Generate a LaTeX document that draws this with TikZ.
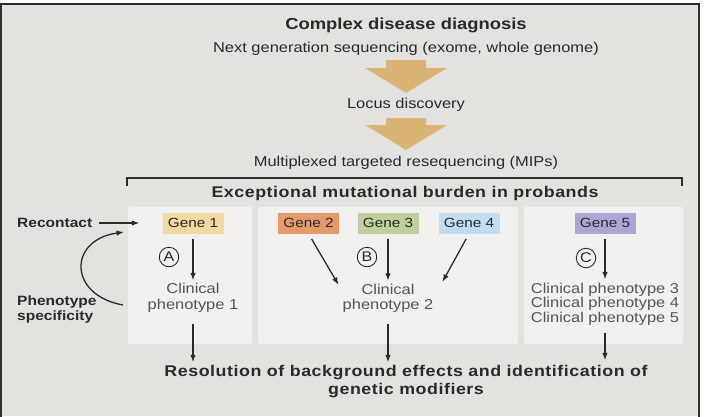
\documentclass[tikz,border=0pt]{standalone}
\usepackage{fontspec}
\setmainfont{Liberation Sans}[FakeStretch=1.15]
\newfontfamily\trackbf{Liberation Sans}[FakeStretch=1.15,LetterSpace=3.5]
\usetikzlibrary{arrows.meta}
\definecolor{bgc}{HTML}{E4E2DF}
\definecolor{panelc}{HTML}{F2F1EF}
\definecolor{framec}{HTML}{2E2E2E}
\definecolor{tanc}{HTML}{D9B475}
\definecolor{txtdark}{HTML}{2A2A2A}
\definecolor{clingray}{HTML}{555555}
\definecolor{geneA}{HTML}{F2D9A0}
\definecolor{geneB}{HTML}{E69A6C}
\definecolor{geneC}{HTML}{BED09B}
\definecolor{geneD}{HTML}{C0DDF2}
\definecolor{geneE}{HTML}{ACA6D6}
\begin{document}
\begin{tikzpicture}[x=1pt,y=-1pt,
  toptext/.style={font=\fontsize{14.3}{16}\selectfont, text=txtdark, inner sep=0},
  titletext/.style={font=\bfseries\fontsize{16}{18}\selectfont, text=txtdark, inner sep=0},
  genebox/.style={font=\fontsize{13.3}{15}\selectfont, text=txtdark, minimum width=61, minimum height=21, inner sep=0},
  clin/.style={font=\fontsize{14.3}{15.5}\selectfont, text=clingray, align=center, inner sep=0},
  sidebf/.style={font=\bfseries\fontsize{13.5}{15}\selectfont, text=txtdark, align=left, inner sep=0},
  bigbf/.style={font=\trackbf\bfseries\fontsize{15.5}{17.5}\selectfont, text=txtdark, align=center, inner sep=0},
  flow/.style={draw=txtdark, line width=1.3pt, -{Latex[length=7.5pt,width=5.5pt]}},
  circ/.style={circle, draw=txtdark, line width=0.9pt, minimum size=19.5, inner sep=0, text=txtdark, font=\fontsize{14}{14}\selectfont},
  panel/.style={fill=panelc, rounded corners=2pt}]
\useasboundingbox (0,0) rectangle (706,416);
\fill[white] (0,0) rectangle (706,416);
\fill[bgc] (1,4) rectangle (699,416);
\draw[framec, line width=1.6pt] (1,417) -- (1,4) -- (699,4) -- (699,417);

% top flow
\node[titletext] (title) at (406,25) {Complex disease diagnosis};
\node[toptext] (ngs) at (406,49) {Next generation sequencing (exome, whole genome)};
\fill[tanc] (386,60) -- (426,60) -- (426,68) -- (447,68) -- (406,93) -- (365,68) -- (386,68) -- cycle;
\node[toptext] (locus) at (406,105) {Locus discovery};
\fill[tanc] (386,118) -- (426,118) -- (426,125) -- (447,125) -- (406,150) -- (365,125) -- (386,125) -- cycle;
\node[toptext] (mips) at (406,163) {Multiplexed targeted resequencing (MIPs)};

% bracket
\draw[framec, line width=1.5pt] (127,186) -- (127,178) -- (682,178) -- (682,186);
\node[bigbf] (excep) at (405,193) {Exceptional mutational burden in probands};

% panels
\fill[panel] (128,207) rectangle (252,344);
\fill[panel] (258,207) rectangle (518,344);
\fill[panel] (524,207) rectangle (683,344);

% genes
\node[genebox, fill=geneA] (g1) at (193,223) {Gene 1};
\node[genebox, fill=geneB] (g2) at (308.5,223) {Gene 2};
\node[genebox, fill=geneC] (g3) at (388,223) {Gene 3};
\node[genebox, fill=geneD] (g4) at (469,223) {Gene 4};
\node[genebox, fill=geneE] (g5) at (605,223) {Gene 5};

% circled letters
\node[circ] (ca) at (169,257) {A};
\node[circ] (cb) at (367,257) {B};
\node[circ] (cc) at (586,258) {C};

% clinical phenotypes
\node[clin] (cp1) at (193,298) {Clinical\\phenotype 1};
\node[clin] (cp2) at (388,298.5) {Clinical\\phenotype 2};
\node[clin, font=\fontsize{14.3}{14.7}\selectfont] (cp3) at (605,304) {Clinical phenotype 3\\Clinical phenotype 4\\Clinical phenotype 5};

% resolution
\node[bigbf] (res) at (406,381.5) {Resolution of background effects and identification of\\genetic modifiers};

% side labels
\node[sidebf, anchor=west] (recon) at (17,223) {Recontact};
\node[sidebf, anchor=west] (phspec) at (17,309.5) {Phenotype\\specificity};

% arrows
\draw[flow, shorten <=5pt, shorten >=3pt] (g1.south) -- (cp1.north);
\draw[flow, shorten <=5pt, shorten >=3pt] (g3.south) -- (cp2.north);
\draw[flow, shorten <=5pt, shorten >=3pt] (g5.south) -- (cp3.north);
\draw[flow, shorten <=6pt] (g2.south) -- ([xshift=-4pt,yshift=-1pt]cp2.north west);
\draw[flow, shorten <=6pt] (g4.south) -- ([xshift=9pt,yshift=2pt]cp2.north east);
\draw[flow, shorten <=11pt, shorten >=3pt] (cp1.south) -- (cp1.south |- res.north);
\draw[flow, shorten <=11pt, shorten >=3pt] (cp2.south) -- (cp2.south |- res.north);
\draw[flow, shorten <=7pt, shorten >=5pt] (cp3.south) -- (cp3.south |- res.north);
\draw[flow, shorten <=7pt, shorten >=23pt] (recon.east) -- (g1.west);
\coordinate (cs) at (123,305);
\coordinate (ce) at (124,232);
\draw[flow] (cs) .. controls (68,295) and (68,240) .. (ce);
\end{tikzpicture}
\end{document}
